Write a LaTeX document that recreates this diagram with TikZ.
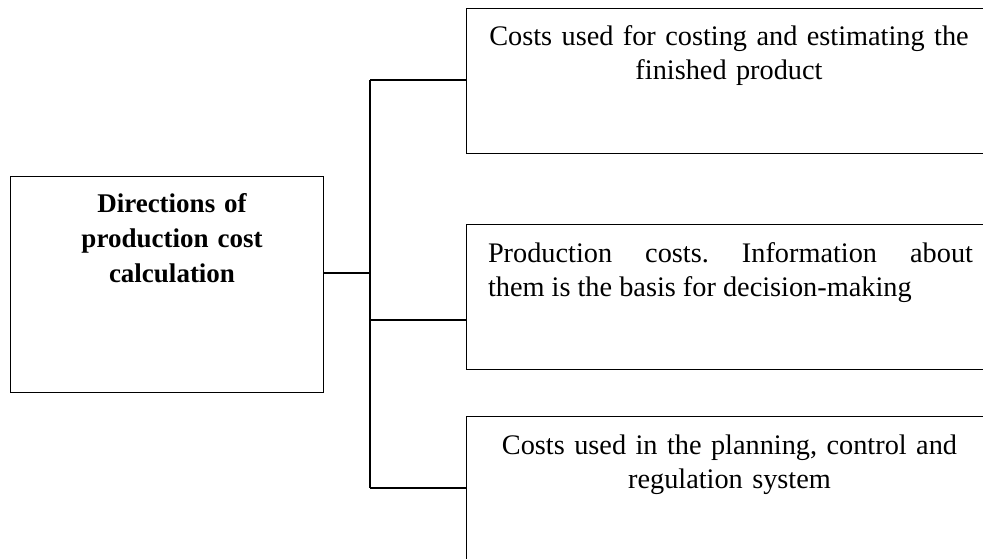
\documentclass[tikz,border=0pt]{standalone}
\usepackage{fontspec}
\setmainfont{Liberation Serif}
\frenchspacing
\begin{document}
\begin{tikzpicture}[x=1pt,y=-1pt,
  box/.style={draw=black, line width=1.2pt, rectangle, inner sep=0pt, anchor=north west},
  txt/.style={inner sep=0pt, font=\fontsize{28.3}{34}\selectfont\frenchspacing, anchor=base},
  link/.style={draw=black, line width=1.2pt}]
\useasboundingbox (0,0) rectangle (983,558);
\clip (0,0) rectangle (983,558);
% boxes
\node[box, minimum width=313pt, minimum height=216pt] (lb) at (10,176) {};
\node[box, minimum width=540pt, minimum height=145pt] (b1) at (466,8) {};
\node[box, minimum width=540pt, minimum height=145pt] (b2) at (466,224) {};
\node[box, minimum width=540pt, minimum height=160pt] (b3) at (466,416) {};
% texts
\node[txt, text width=300pt, align=center, font=\fontsize{27}{35}\selectfont\bfseries] (lt) at (172,212) {Directions of\\production cost\\calculation};
\node[txt, text width=486pt, align=center] (t1) at (729,45) {Costs used for costing and estimating the\\finished product};
\node[txt, text width=485pt, align=justify] (t2) at (730.5,262) {Production costs. Information about\linebreak them is the basis for decision-making};
\node[txt, text width=486pt, align=center] (t3) at (729.5,454) {Costs used in the planning, control and\\regulation system};
% connectors
\coordinate (j0) at (370,273);
\coordinate (j1) at (370,80);
\coordinate (j2) at (370,320);
\coordinate (j3) at (370,488);
\draw[link] (j0 -| lb.east) -- (j0);
\draw[link] (j1) -- (j3);
\draw[link] (j1) -- (j1 -| b1.west);
\draw[link] (j2) -- (j2 -| b2.west);
\draw[link] (j3) -- (j3 -| b3.west);
\end{tikzpicture}
\end{document}
